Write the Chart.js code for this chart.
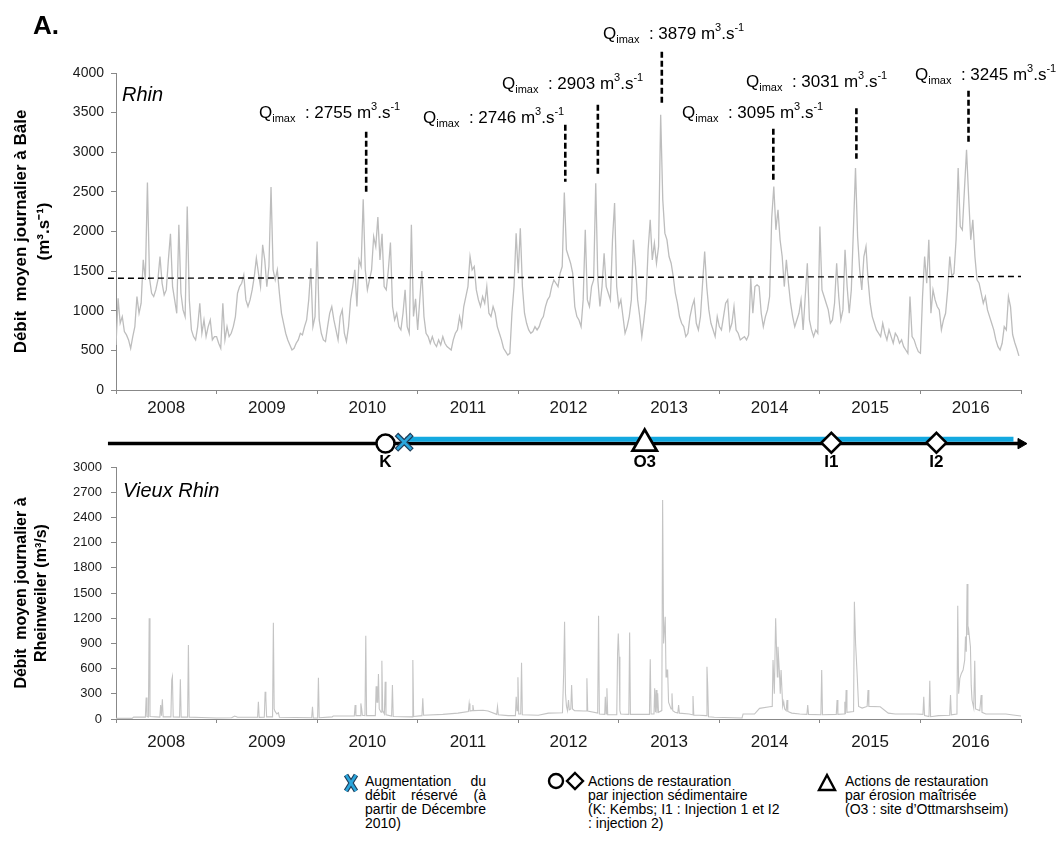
<!DOCTYPE html>
<html>
<head>
<meta charset="utf-8">
<script src="https://cdn.jsdelivr.net/npm/chart.js@4.4.0/dist/chart.umd.min.js"></script>
<style>
  html, body { margin: 0; padding: 0; background: #fff; }
  body { width: 1060px; height: 854px; position: relative; overflow: hidden;
         font-family: "Liberation Sans", Arial, sans-serif; color: #000; }
  canvas { position: absolute; left: 0; }
  #topChart { top: 0; }
  #bottomChart { top: 440px; }
  #timeline { top: 410px; }
  .txt { position: absolute; white-space: nowrap; }
  .leg { position: absolute; font-size: 14px; line-height: 14px; }
  .leg .j { text-align: justify; text-align-last: justify; }
  svg { position: absolute; overflow: visible; }
</style>
</head>
<body>
<canvas id="topChart" width="1060" height="430"></canvas>
<canvas id="bottomChart" width="1060" height="320"></canvas>
<canvas id="timeline" width="1060" height="80"></canvas>

<div class="txt" style="left:33px; top:11px; font-size:26px; line-height:28px; font-weight:bold;">A.</div>
<div class="txt" style="left:122px; top:83px; font-size:20px; line-height:22px; font-style:italic;">Rhin</div>
<div class="txt" style="left:123px; top:479px; font-size:20px; line-height:22px; font-style:italic;">Vieux Rhin</div>

<!-- legend -->
<svg style="left:344px; top:774px;" width="14" height="18">
  <path d="M2 1 L12 17 M12 1 L2 17" stroke="#1f3c58" stroke-width="5" />
  <path d="M2 1 L12 17 M12 1 L2 17" stroke="#2ba6dc" stroke-width="2.6" />
</svg>
<div class="leg" style="left:365px; top:774px; width:121px;">
  <div class="j">Augmentation du</div>
  <div class="j">débit réservé (à</div>
  <div class="j">partir de Décembre</div>
  <div>2010)</div>
</div>
<svg style="left:548px; top:772px;" width="40" height="20">
  <circle cx="8" cy="9" r="7" fill="#fff" stroke="#000" stroke-width="2.4" />
  <path d="M27 1 L35 9 L27 17 L19 9 Z" fill="#fff" stroke="#000" stroke-width="2.4" />
</svg>
<div class="leg" style="left:588px; top:774px;">
  <div>Actions de restauration</div>
  <div>par injection sédimentaire</div>
  <div>(K: Kembs; I1 : Injection 1 et I2</div>
  <div>: injection 2)</div>
</div>
<svg style="left:818px; top:773px;" width="20" height="20">
  <path d="M9 2 L17 17 L1 17 Z" fill="#fff" stroke="#000" stroke-width="2.4" />
</svg>
<div class="leg" style="left:845px; top:774px;">
  <div>Actions de restauration</div>
  <div>par érosion maîtrisée</div>
  <div>(O3 : site d’Ottmarshseim)</div>
</div>

<script>
const yearStart = 2008;
const yearLabels = ["2008", "2009", "2010", "2011", "2012", "2013", "2014", "2015", "2016"];

const rhin2008 = [568, 1158, 842, 926, 737, 695, 632, 526, 674, 800, 1179, 968, 1095, 1642, 1389, 2619, 1410, 1221, 1179, 1263, 1389, 1684, 1347, 1200, 1263, 1642, 1970, 1305, 1137, 968, 2084, 1221, 1011, 926, 2316, 1137, 758, 674, 632, 800, 1095, 716, 884, 674, 800, 884, 632, 674];
const rhin2009 = [674, 590, 526, 1095, 632, 800, 674, 716, 800, 926, 1221, 1305, 1347, 1452, 1137, 1053, 1137, 1263, 1431, 1663, 1474, 1305, 1831, 1642, 1305, 1558, 2560, 1516, 1389, 1516, 1221, 968, 842, 716, 632, 568, 505, 526, 590, 632, 716, 695, 800, 884, 1137, 1537, 800, 926];
const rhin2010 = [1874, 884, 716, 632, 611, 800, 968, 1053, 884, 758, 632, 926, 1011, 716, 611, 800, 1137, 1305, 1516, 1053, 1642, 1558, 2408, 1516, 1263, 1389, 1516, 1937, 1810, 2181, 1642, 1970, 1305, 1263, 1516, 1861, 1053, 884, 968, 800, 758, 968, 1263, 800, 716, 2084, 927, 1150];
const rhin2011 = [758, 1137, 1500, 927, 716, 674, 590, 674, 590, 548, 632, 569, 674, 590, 548, 527, 505, 632, 716, 758, 927, 800, 1053, 1179, 1305, 1684, 1516, 1558, 1263, 1137, 1053, 1179, 1095, 1305, 969, 927, 1053, 969, 800, 716, 632, 527, 484, 442, 463, 969, 1305, 1979];
const rhin2012 = [1474, 2042, 1305, 969, 842, 758, 716, 737, 800, 758, 800, 884, 927, 1053, 1137, 1179, 1305, 1389, 1347, 1305, 1474, 1558, 2493, 1769, 1684, 1600, 1474, 1053, 927, 884, 800, 1137, 2021, 1137, 1053, 1305, 1389, 2610, 1389, 1053, 1305, 1726, 1305, 1221, 1137, 1895, 2358, 1305];
const rhin2013 = [1053, 1137, 927, 716, 800, 927, 1137, 1895, 1558, 1137, 927, 674, 884, 1137, 1769, 2147, 1642, 1853, 1600, 1811, 3474, 2400, 1979, 1895, 1684, 1600, 1432, 1221, 1095, 927, 842, 800, 674, 716, 927, 1053, 1137, 842, 758, 927, 1347, 1747, 1300, 1011, 842, 760, 674, 926];
const rhin2014 = [800, 758, 926, 1095, 1137, 758, 842, 1053, 758, 716, 632, 653, 674, 632, 695, 1410, 968, 1305, 1326, 1305, 968, 800, 926, 1011, 1179, 2168, 2568, 2021, 2274, 1895, 1684, 1305, 1642, 1347, 1095, 926, 800, 884, 968, 1137, 758, 1179, 1600, 884, 758, 674, 758, 716];
const rhin2015 = [2063, 1263, 1179, 1095, 1011, 842, 884, 1095, 1600, 1179, 884, 1011, 1768, 1305, 968, 1263, 2021, 2800, 1937, 1516, 1263, 1684, 1810, 1390, 1095, 926, 842, 758, 716, 674, 842, 716, 632, 758, 674, 590, 716, 674, 590, 632, 547, 505, 463, 1179, 674, 632, 547, 484];
const rhin2016 = [463, 1179, 1684, 1347, 1895, 968, 1263, 1137, 1053, 1011, 758, 884, 968, 1263, 1684, 1432, 1474, 1895, 2800, 2063, 2021, 2526, 3031, 2442, 1895, 2147, 1684, 1390, 1347, 1221, 1095, 1179, 1011, 926, 842, 758, 632, 547, 505, 590, 800, 758, 1179, 1050, 700, 600, 520, 430];

// debit moyen (ligne pointillee)
const meanDates = [2007.92, 2017];
const meanValues = [1410, 1432];

// pics annotes Qimax
const qmaxLabels = ["2755", "2746", "2903", "3879", "3095", "3031", "3245"];
const qmaxDates = [2010.488, 2012.468, 2012.792, 2013.428, 2014.537, 2015.363, 2016.478];
const qmaxLineTop = [3260, 3347, 3600, 4269, 3296, 3554, 3776];
const qmaxLineBottom = [2480, 2627, 2690, 3612, 2652, 2918, 3120];

// Vieux Rhin a Rheinweiler : dates (annee decimale) et debits
const vieuxDates = [
  2008.000, 2008.160, 2008.175, 2008.292, 2008.300, 2008.308, 2008.322, 2008.330, 2008.338, 2008.436,
  2008.444, 2008.452, 2008.461, 2008.469, 2008.546, 2008.554, 2008.561, 2008.569, 2008.632, 2008.640,
  2008.648, 2008.712, 2008.720, 2008.728, 2008.850, 2009.000, 2009.150, 2009.180, 2009.210, 2009.408,
  2009.416, 2009.424, 2009.475, 2009.483, 2009.490, 2009.498, 2009.557, 2009.565, 2009.573, 2009.582,
  2009.600, 2009.615, 2009.625, 2009.946, 2009.954, 2009.962, 2010.005, 2010.013, 2010.021, 2010.150,
  2010.160, 2010.370, 2010.378, 2010.386, 2010.427, 2010.435, 2010.442, 2010.450, 2010.476, 2010.484,
  2010.492, 2010.579, 2010.587, 2010.595, 2010.603, 2010.610, 2010.618, 2010.636, 2010.644, 2010.652,
  2010.669, 2010.677, 2010.685, 2010.741, 2010.749, 2010.757, 2010.944, 2010.952, 2010.960, 2011.043,
  2011.051, 2011.059, 2011.250, 2011.400, 2011.504, 2011.512, 2011.520, 2011.541, 2011.549, 2011.557,
  2011.650, 2011.700, 2011.786, 2011.794, 2011.802, 2011.900, 2011.972, 2011.980, 2011.988, 2011.997,
  2012.005, 2012.025, 2012.033, 2012.041, 2012.200, 2012.300, 2012.440, 2012.452, 2012.461, 2012.470,
  2012.480, 2012.490, 2012.500, 2012.508, 2012.523, 2012.531, 2012.540, 2012.560, 2012.650, 2012.675,
  2012.683, 2012.691, 2012.790, 2012.799, 2012.807, 2012.860, 2012.866, 2012.874, 2012.882, 2012.890,
  2012.980, 2012.988, 2012.995, 2013.003, 2013.011, 2013.020, 2013.100, 2013.108, 2013.116, 2013.305,
  2013.313, 2013.321, 2013.350, 2013.357, 2013.365, 2013.372, 2013.380, 2013.387, 2013.395, 2013.428,
  2013.436, 2013.446, 2013.462, 2013.470, 2013.478, 2013.486, 2013.495, 2013.520, 2013.529, 2013.537,
  2013.560, 2013.587, 2013.595, 2013.603, 2013.700, 2013.730, 2013.738, 2013.746, 2013.800, 2013.869,
  2013.877, 2013.884, 2013.892, 2013.950, 2014.226, 2014.236, 2014.350, 2014.400, 2014.500, 2014.526,
  2014.534, 2014.547, 2014.560, 2014.570, 2014.577, 2014.583, 2014.598, 2014.606, 2014.614, 2014.630,
  2014.640, 2014.650, 2014.665, 2014.673, 2014.681, 2014.720, 2014.800, 2014.871, 2014.879, 2014.887,
  2015.010, 2015.018, 2015.026, 2015.163, 2015.171, 2015.179, 2015.240, 2015.248, 2015.254, 2015.261,
  2015.269, 2015.335, 2015.343, 2015.355, 2015.370, 2015.385, 2015.420, 2015.470, 2015.479, 2015.487,
  2015.600, 2015.680, 2015.750, 2015.950, 2016.025, 2016.033, 2016.041, 2016.085, 2016.093, 2016.101,
  2016.180, 2016.291, 2016.299, 2016.307, 2016.363, 2016.371, 2016.380, 2016.392, 2016.407, 2016.424,
  2016.440, 2016.448, 2016.456, 2016.464, 2016.472, 2016.480, 2016.497, 2016.505, 2016.513, 2016.530,
  2016.540, 2016.548, 2016.590, 2016.604, 2016.612, 2016.650, 2016.850, 2016.920, 2017.000
];
const vieuxValues = [
  8, 8, 22, 22, 257, 30, 25, 1198, 30, 22,
  166, 40, 234, 25, 25, 464, 504, 25, 22, 472,
  22, 22, 880, 22, 18, 12, 15, 35, 20, 20,
  206, 20, 22, 325, 260, 25, 25, 1146, 120, 90,
  60, 75, 20, 15, 146, 12, 12, 492, 15, 25,
  35, 35, 166, 40, 40, 186, 130, 45, 40, 991,
  40, 40, 390, 200, 200, 535, 120, 80, 694, 100,
  60, 444, 50, 35, 404, 30, 25, 702, 30, 40,
  246, 45, 55, 70, 90, 186, 95, 100, 166, 100,
  105, 95, 55, 146, 50, 40, 40, 265, 100, 496,
  60, 60, 670, 50, 45, 70, 75, 543, 1158, 300,
  150, 100, 226, 110, 120, 404, 120, 100, 95, 95,
  484, 95, 70, 1229, 60, 55, 265, 60, 365, 50,
  50, 781, 1019, 741, 100, 60, 55, 1031, 55, 55,
  710, 60, 60, 365, 80, 345, 70, 305, 80, 100,
  2606, 900, 1217, 500, 583, 583, 200, 120, 305, 100,
  80, 70, 166, 70, 60, 50, 273, 45, 45, 40,
  622, 400, 27, 20, 12, 59, 59, 127, 146, 150,
  702, 300, 1198, 781, 500, 860, 543, 300, 583, 150,
  206, 120, 100, 226, 90, 70, 59, 55, 166, 55,
  50, 583, 50, 55, 226, 55, 60, 206, 60, 345,
  80, 90, 1396, 900, 543, 150, 130, 150, 345, 150,
  146, 70, 59, 59, 55, 265, 40, 30, 456, 27,
  40, 45, 285, 50, 60, 1348, 300, 484, 543, 583,
  700, 982, 800, 1606, 1000, 1059, 860, 400, 226, 130,
  694, 120, 100, 285, 80, 59, 59, 47, 35
];

// frise des actions
const timelineStart = 2007.92;
const timelineEnd = 2017.0;
const reservedFlowStart = 2010.876;
const reservedFlowEnd = 2016.925;
const reservedFlowDate = 2010.866;
const actionLabels = ["K", "O3", "I1", "I2"];
const actionDates = [2010.68, 2013.258, 2015.114, 2016.159];

const fontFamily = '"Liberation Sans", Arial, sans-serif';
const axisColor = "#888888";
const labelColor = "#1a1a1a";

const rhinByYear = [rhin2008, rhin2009, rhin2010, rhin2011, rhin2012, rhin2013, rhin2014, rhin2015, rhin2016];
const rhinPoints = [];
rhinByYear.forEach((vals, k) => {
    vals.forEach((v, i) => rhinPoints.push({ x: yearStart + k + i / vals.length, y: v }));
});

const qmaxPoints = [];
qmaxDates.forEach((d, i) => {
    qmaxPoints.push({ x: d, y: qmaxLineTop[i] }, { x: d, y: qmaxLineBottom[i] }, { x: d, y: null });
});

// text anchors (canvas px) for Qimax labels
const qmaxTextAt = [[259, 118], [423, 123], [502, 89], [603, 39], [682, 118], [746, 87], [915, 80]];

function yearAxes(labelPad) {
    return {
        x: {
            type: "linear", min: yearStart, max: yearStart + yearLabels.length, position: "bottom", weight: 0,
            ticks: { display: false, stepSize: 1 },
            grid: { drawOnChartArea: false, drawTicks: true, tickLength: 4, color: axisColor },
            border: { color: axisColor, width: 1 },
            afterFit: (s) => { s.height = 4; }
        },
        x2: {
            type: "linear", min: yearStart, max: yearStart + yearLabels.length, position: "bottom", weight: 1,
            afterBuildTicks: (s) => { s.ticks = yearLabels.map((l, i) => ({ value: yearStart + i + 0.5 })); },
            ticks: {
                autoSkip: false, maxRotation: 0, padding: labelPad, color: labelColor,
                font: { family: fontFamily, size: 17 },
                callback: (v, i) => yearLabels[i]
            },
            grid: { display: false, drawTicks: false },
            border: { display: false },
            afterFit: (s) => { s.height = 30; }
        }
    };
}

function drawQmax(ctx, x, y, value) {
    const big = "17px " + fontFamily;
    const small = "11px " + fontFamily;
    const parts = [["Q", big, 0], ["imax", small, 4], ["  : " + value + " m", big, 0], ["3", small, -8], [".s", big, 0], ["-1", small, -8]];
    ctx.save();
    ctx.fillStyle = "#000";
    ctx.textAlign = "left";
    ctx.textBaseline = "alphabetic";
    for (const [t, f, dy] of parts) {
        ctx.font = f;
        ctx.fillText(t, x, y + dy);
        x += ctx.measureText(t).width;
    }
    ctx.restore();
}

const qmaxTextPlugin = {
    id: "qmaxText",
    afterDraw(chart) {
        qmaxLabels.forEach((l, i) => drawQmax(chart.ctx, qmaxTextAt[i][0], qmaxTextAt[i][1], l));
    }
};

// Top chart: Rhin a Bale
new Chart(document.getElementById("topChart"), {
    type: "line",
    data: {
        datasets: [
            {
                data: qmaxPoints, borderColor: "#000", borderWidth: 2.6, borderDash: [6, 3],
                pointRadius: 0, clip: false, spanGaps: false
            },
            {
                data: meanDates.map((d, i) => ({ x: d, y: meanValues[i] })),
                borderColor: "#000", borderWidth: 1.4, borderDash: [6, 4], pointRadius: 0, clip: false
            },
            {
                data: rhinPoints, borderColor: "#bdbdbd", borderWidth: 1.3, pointRadius: 0, tension: 0
            }
        ]
    },
    options: {
        responsive: false,
        animation: false,
        layout: { padding: { top: 73, right: 39, bottom: 6, left: 0 } },
        plugins: { legend: { display: false }, tooltip: { enabled: false } },
        scales: Object.assign(yearAxes(4), {
            y: {
                min: 0, max: 4000,
                ticks: {
                    stepSize: 500, padding: 7, color: labelColor, font: { family: fontFamily, size: 14 },
                    callback: (v) => String(v)
                },
                grid: { drawOnChartArea: false, tickLength: 5, color: axisColor },
                border: { color: axisColor },
                title: {
                    display: true, text: ["Débit  moyen journalier à Bâle", "(m³.s⁻¹)"], color: "#000",
                    font: { family: fontFamily, size: 17, weight: "bold", lineHeight: 1.4 },
                    padding: { top: 9, bottom: 0 }
                },
                afterFit: (s) => { s.width = 116; }
            }
        })
    },
    plugins: [qmaxTextPlugin]
});

// Bottom chart: Vieux Rhin a Rheinweiler
new Chart(document.getElementById("bottomChart"), {
    type: "line",
    data: {
        datasets: [
            {
                data: vieuxDates.map((d, i) => ({ x: d, y: vieuxValues[i] })),
                borderColor: "#c4c4c4", borderWidth: 1.1, pointRadius: 0, tension: 0
            }
        ]
    },
    options: {
        responsive: false,
        animation: false,
        layout: { padding: { top: 27, right: 39, bottom: 7, left: 0 } },
        plugins: { legend: { display: false }, tooltip: { enabled: false } },
        scales: Object.assign(yearAxes(9), {
            y: {
                min: 0, max: 3000,
                ticks: {
                    stepSize: 300, padding: 9, color: labelColor, font: { family: fontFamily, size: 13 },
                    callback: (v) => String(v)
                },
                grid: { drawOnChartArea: false, tickLength: 5, color: axisColor },
                border: { color: axisColor },
                title: {
                    display: true, text: ["Débit  moyen journalier à", "Rheinweiler (m³/s)"], color: "#000",
                    font: { family: fontFamily, size: 16, weight: "bold", lineHeight: 1.25 },
                    padding: { top: 12, bottom: 0 }
                },
                afterFit: (s) => { s.width = 116; }
            }
        })
    }
});

// Timeline between the two charts
const labelLevel = 61;
const actionLabelPlugin = {
    id: "actionLabels",
    afterDatasetsDraw(chart) {
        const { ctx, scales } = chart;
        ctx.save();
        ctx.font = "bold 17px " + fontFamily;
        ctx.fillStyle = "#000";
        ctx.textAlign = "center";
        ctx.textBaseline = "middle";
        actionLabels.forEach((l, i) => {
            ctx.fillText(l, scales.x.getPixelForValue(actionDates[i]), scales.y.getPixelForValue(labelLevel));
        });
        ctx.restore();
    }
};

const lineLevel = 29;
const blueLevel = 21.5;
const markerBase = { showLine: false, clip: false, pointBackgroundColor: "#fff", pointBorderColor: "#000" };

new Chart(document.getElementById("timeline"), {
    type: "line",
    data: {
        datasets: [
            Object.assign({}, markerBase, {
                data: [{ x: actionDates[0], y: lineLevel }],
                pointStyle: "circle", pointRadius: 9, pointBorderWidth: 2.5
            }),
            Object.assign({}, markerBase, {
                data: [{ x: actionDates[1], y: lineLevel }],
                pointStyle: "triangle", pointRadius: 14, pointBorderWidth: 2.8
            }),
            Object.assign({}, markerBase, {
                data: [{ x: actionDates[2], y: lineLevel - 1.5 }, { x: actionDates[3], y: lineLevel - 1.5 }],
                pointStyle: "rectRot", pointRadius: 10, pointBorderWidth: 2.5
            }),
            Object.assign({}, markerBase, {
                data: [{ x: reservedFlowDate, y: lineLevel - 2.5 }],
                pointStyle: "crossRot", pointRadius: 10, pointBorderWidth: 2.6, pointBorderColor: "#2ba6dc"
            }),
            Object.assign({}, markerBase, {
                data: [{ x: reservedFlowDate, y: lineLevel - 2.5 }],
                pointStyle: "crossRot", pointRadius: 11, pointBorderWidth: 5, pointBorderColor: "#1f3c58"
            }),
            Object.assign({}, markerBase, {
                data: [{ x: timelineEnd, y: lineLevel }],
                pointStyle: "triangle", rotation: 90, pointRadius: 6, pointBackgroundColor: "#000", pointBorderWidth: 1
            }),
            {
                data: [{ x: reservedFlowStart, y: blueLevel }, { x: reservedFlowEnd, y: blueLevel }],
                borderColor: "#14a9e0", borderWidth: 5, pointRadius: 0, clip: false
            },
            {
                data: [{ x: timelineStart, y: lineLevel }, { x: timelineEnd, y: lineLevel }],
                borderColor: "#000", borderWidth: 3.5, pointRadius: 0, clip: false
            }
        ]
    },
    options: {
        responsive: false,
        animation: false,
        layout: { padding: { top: 0, right: 39, bottom: 0, left: 116 } },
        plugins: { legend: { display: false }, tooltip: { enabled: false } },
        scales: {
            x: { type: "linear", display: false, min: yearStart, max: yearStart + yearLabels.length },
            y: { display: false, min: 0, max: 80, reverse: true }
        }
    },
    plugins: [actionLabelPlugin]
});
</script>
</body>
</html>
